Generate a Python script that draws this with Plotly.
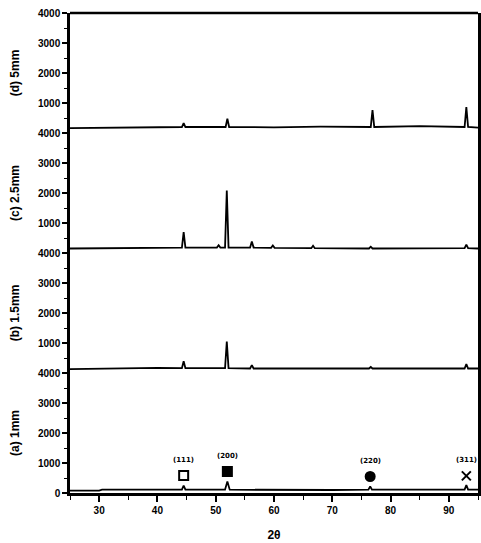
import plotly.graph_objects as go
from plotly.subplots import make_subplots

# ---- data ----
panel_labels = ["(d) 5mm", "(c) 2.5mm", "(b) 1.5mm", "(a) 1mm"]

x_d = [25, 30, 38, 44.2, 44.5, 44.8, 51.7, 52.0, 52.3, 60, 68, 76.6, 76.9, 77.2, 85, 92.7, 93.0, 93.3, 95]
y_d = [160, 170, 200, 200, 330, 200, 200, 480, 200, 190, 210, 200, 760, 200, 230, 200, 860, 200, 180]

x_c = [25, 32, 40, 44.2, 44.5, 44.8, 50.2, 50.5, 50.8, 51.6, 51.9, 52.2, 55.9, 56.2, 56.5, 59.5, 59.8, 60.1,
       66.4, 66.7, 67.0, 76.3, 76.6, 76.9, 92.7, 93.0, 93.3, 95]
y_c = [150, 170, 190, 180, 700, 180, 180, 260, 180, 180, 2080, 180, 180, 380, 180, 170, 250, 170,
       160, 240, 160, 150, 210, 150, 160, 280, 160, 150]

x_b = [25, 32, 40, 44.2, 44.5, 44.8, 51.6, 51.9, 52.2, 55.9, 56.2, 56.5, 66, 76.3, 76.6, 76.9, 92.7, 93.0, 93.3, 95]
y_b = [130, 160, 170, 160, 390, 160, 160, 1050, 160, 150, 260, 150, 150, 150, 200, 150, 150, 300, 150, 150]

x_a = [25, 30, 30.5, 40, 44.2, 44.5, 44.8, 51.6, 52.0, 52.4, 60, 70, 76.2, 76.5, 76.8, 85, 92.7, 93.0, 93.3, 95]
y_a = [80, 80, 110, 110, 110, 250, 110, 110, 380, 110, 100, 100, 110, 220, 110, 100, 110, 260, 110, 110]

marker_x = [44.5, 52.0, 76.5, 93.0]
marker_y = [580, 720, 550, 570]
marker_symbols = ["square-open", "square", "circle", "x-thin"]
hkl_labels = ["(111)", "(200)", "(220)", "(311)"]
hkl_label_y = [900, 1050, 880, 900]

x_tick_vals = [30, 40, 50, 60, 70, 80, 90]
y_tick_vals_top = [1000, 2000, 3000, 4000]
y_tick_vals_bottom = [0, 1000, 2000, 3000, 4000]

series = [(x_d, y_d), (x_c, y_c), (x_b, y_b), (x_a, y_a)]

fig = make_subplots(rows=4, cols=1, shared_xaxes=True, vertical_spacing=0)

for i, (xs, ys) in enumerate(series):
    fig.add_trace(go.Scatter(x=xs, y=ys, mode="lines", line=dict(color="black", width=1.8),
                             showlegend=False, hoverinfo="skip", cliponaxis=False), row=i + 1, col=1)

fig.add_trace(go.Scatter(x=marker_x, y=marker_y, mode="markers", cliponaxis=False,
                         marker=dict(symbol=marker_symbols, size=9, color="black",
                                     line=dict(color="black", width=2)),
                         showlegend=False), row=4, col=1)

for xv, yv, t in zip(marker_x, hkl_label_y, hkl_labels):
    fig.add_annotation(x=xv, y=yv, text=t, showarrow=False, xref="x4", yref="y4",
                       font=dict(size=7, color="black", family="DejaVu Sans", weight="bold"),
                       yanchor="bottom")

tickfont = dict(size=10, color="black", family="Liberation Sans", weight="bold")
titlefont = dict(size=12, color="black", family="Liberation Sans", weight="bold")

for i in range(4):
    r = i + 1
    fig.update_yaxes(range=[0, 4000], automargin=False,
                     tickvals=y_tick_vals_bottom if r == 4 else y_tick_vals_top,
                     ticks="outside", ticklen=5, tickwidth=1.5, tickcolor="black",
                     minor=dict(dtick=500, ticks="outside", ticklen=3, tickwidth=1.2, tickcolor="black", showgrid=False),
                     showline=True, linecolor="black", linewidth=2.5, mirror=True,
                     showgrid=False, zeroline=False, tickfont=tickfont,
                     title=dict(text=panel_labels[i], font=titlefont, standoff=16),
                     row=r, col=1)
    fig.update_xaxes(range=[25, 95], showgrid=False, zeroline=False, row=r, col=1, automargin=False,
                     showline=(r == 4), linecolor="black", linewidth=2.5)

fig.update_xaxes(tickvals=x_tick_vals, ticks="outside", ticklen=6, tickwidth=1.5, tickcolor="black",
                 minor=dict(dtick=5, ticks="outside", ticklen=4, tickwidth=1.2, tickcolor="black", showgrid=False),
                 tickfont=tickfont, title=dict(text="2θ", font=titlefont, standoff=16), row=4, col=1)

fig.add_shape(type="line", xref="paper", yref="paper", x0=0, x1=1, y0=1, y1=1,
              line=dict(color="black", width=2.5))

fig.update_layout(width=481, height=543, margin=dict(l=70, r=3, t=13, b=50),
                  plot_bgcolor="white", paper_bgcolor="white")

fig.write_html("out.html", config={"displayModeBar": False},
               post_script="document.body.style.margin='0';")
